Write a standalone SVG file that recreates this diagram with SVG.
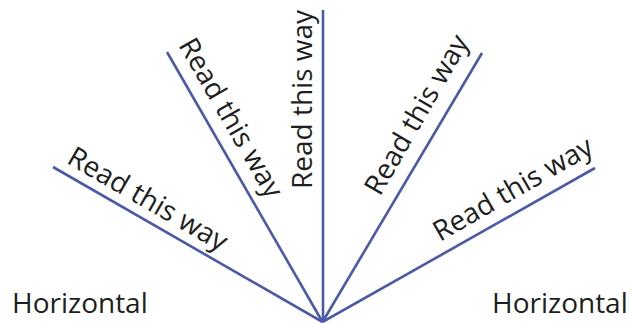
<svg xmlns="http://www.w3.org/2000/svg" width="630" height="323" viewBox="0 0 630 323">
<style>
.ln{stroke:#4a5aa6;stroke-width:2.6;stroke-linecap:butt;fill:none}
.t{font-family:"Open Sans","Noto Sans","Liberation Sans",sans-serif;font-size:28px;fill:#1e1e1e}
</style>
<rect width="630" height="323" fill="#ffffff"/>
<g id="connectors">
<line class="ln" x1="322.5" y1="322" x2="53" y2="167"/>
<line class="ln" x1="322.5" y1="322" x2="167" y2="52"/>
<line class="ln" x1="323" y1="322" x2="323" y2="10"/>
<line class="ln" x1="322.5" y1="322" x2="482" y2="53"/>
<line class="ln" x1="322.5" y1="322" x2="595" y2="168"/>
</g>
<g id="label-horizontal-left"><text class="t" x="12" y="313">Horizontal</text></g>
<g id="label-horizontal-right"><text class="t" x="492" y="313">Horizontal</text></g>
<g id="label-30-left"><text class="t" transform="translate(65.5,162.5) rotate(30)">Read this way</text></g>
<g id="label-60-left"><text class="t" transform="translate(178,45) rotate(60)">Read this way</text></g>
<g id="label-vertical"><text class="t" transform="translate(312,189) rotate(-90)">Read this way</text></g>
<g id="label-60-right"><text class="t" transform="translate(380,197) rotate(-60)">Read this way</text></g>
<g id="label-30-right"><text class="t" transform="translate(440,242) rotate(-30)">Read this way</text></g>
</svg>
